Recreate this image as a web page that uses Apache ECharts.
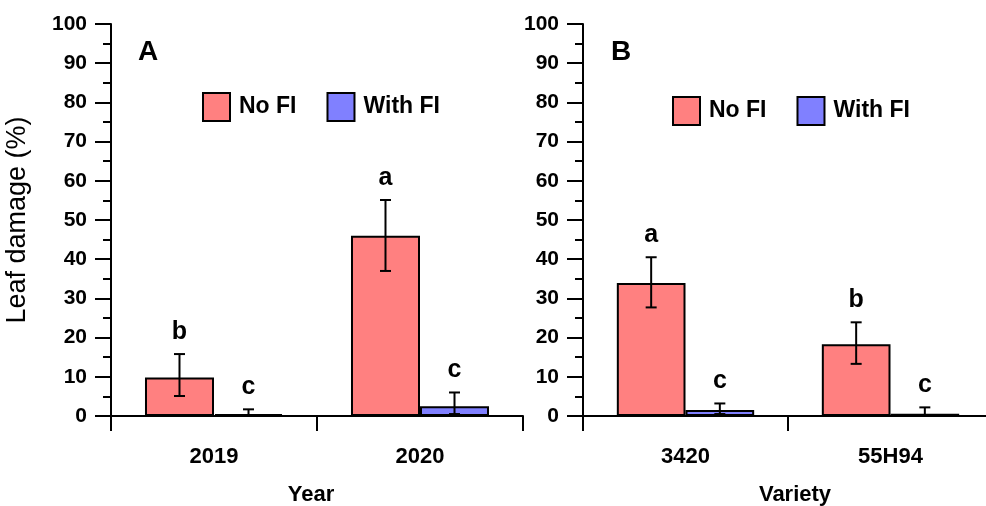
<!DOCTYPE html>
<html>
<head>
<meta charset="utf-8">
<script src="https://cdn.jsdelivr.net/npm/echarts@6/dist/echarts.min.js"></script>
<style>
html,body{margin:0;padding:0;background:#fff;}
#chart{width:986px;height:506px;}
</style>
</head>
<body>
<div id="chart"></div>
<script>
// ---------- data ----------
const seriesNames = ['No FI', 'With FI'];
const yTicks = [0, 10, 20, 30, 40, 50, 60, 70, 80, 90, 100];

// Panel A (Year)
const catsA = ['2019', '2020'];
const noFiA = [9.8, 46.0];
const noFiA_lo = [5.1, 37.0];
const noFiA_hi = [15.8, 55.1];
const withFiA = [0.5, 2.5];
const withFiA_lo = [0.0, 0.5];
const withFiA_hi = [1.7, 6.0];
const lettersNoFiA = ['b', 'a'];
const lettersWithFiA = ['c', 'c'];

// Panel B (Variety)
const catsB = ['3420', '55H94'];
const noFiB = [33.9, 18.3];
const noFiB_lo = [27.7, 13.3];
const noFiB_hi = [40.5, 23.9];
const withFiB = [1.5, 0.6];
const withFiB_lo = [0.5, 0.0];
const withFiB_hi = [3.2, 2.2];
const lettersNoFiB = ['a', 'b'];
const lettersWithFiB = ['c', 'c'];

// ---------- styling ----------
const PINK = '#FF8080';
const BLUE = '#8080FF';
const SANS = "'Liberation Sans', Arial, sans-serif";
const CAT_GAP = 0.33;

function errSeries(name, xi, sign, lo, hi, letters) {
  return {
    name: name,
    type: 'custom',
    xAxisIndex: xi, yAxisIndex: xi,
    z: 5,
    silent: true,
    data: lo.map((v, i) => [i, v, hi[i]]),
    encode: {x: 0, y: [1, 2]},
    renderItem: function (params, api) {
      const ci = api.value(0);
      const l = api.value(1), h = api.value(2);
      const band = api.size([1, 0])[0];
      const bw = band * (1 - CAT_GAP) / 2;
      const x = api.coord([ci, 0])[0] + sign * bw / 2;
      const yh = api.coord([ci, h])[1];
      const yl = api.coord([ci, l])[1];
      const cap = 5.5;
      const ls = {stroke: '#000', lineWidth: 2};
      return {
        type: 'group',
        children: [
          {type: 'line', shape: {x1: x, y1: yh, x2: x, y2: yl}, style: ls},
          {type: 'line', shape: {x1: x - cap, y1: yh, x2: x + cap, y2: yh}, style: ls},
          {type: 'line', shape: {x1: x - cap, y1: yl, x2: x + cap, y2: yl}, style: ls},
          {type: 'text', x: x, y: yh - 22,
            style: {text: letters[params.dataIndex], fill: '#000',
              font: 'bold 25px ' + SANS, align: 'center', verticalAlign: 'middle'}}
        ]
      };
    }
  };
}

function barSeries(name, xi, data, color) {
  return {
    name: name, type: 'bar', xAxisIndex: xi, yAxisIndex: xi,
    data: data, barGap: '0%', barCategoryGap: (CAT_GAP * 100) + '%',
    itemStyle: {color: color, borderColor: '#000', borderWidth: 2},
    z: 2
  };
}

function yAxisCfg(withName, gi) {
  const c = {
    type: 'value', min: yTicks[0], max: yTicks[yTicks.length - 1], interval: 10,
    gridIndex: gi,
    axisLine: {show: true, lineStyle: {color: '#000', width: 2}},
    axisTick: {show: true, length: 16, lineStyle: {color: '#000', width: 2}},
    minorTick: {show: true, splitNumber: 2, length: 8, lineStyle: {color: '#000', width: 2}},
    splitLine: {show: false},
    axisLabel: {fontSize: 21, fontWeight: 'bold', color: '#000', fontFamily: SANS, margin: 24}
  };
  if (withName) {
    c.name = 'Leaf damage (%)';
    c.nameLocation = 'middle';
    c.nameRotate = 90;
    c.nameGap = 80;
    c.nameTextStyle = {fontSize: 27, color: '#000', fontFamily: SANS, fontWeight: 'normal'};
  }
  return c;
}

function xAxisCfg(cats, name, gi, namePad) {
  return {
    type: 'category', data: cats, gridIndex: gi, offset: 6,
    axisLine: {show: true, lineStyle: {color: '#000', width: 2}},
    axisTick: {show: true, length: 15, alignWithLabel: false, lineStyle: {color: '#000', width: 2}},
    axisLabel: {fontSize: 22, fontWeight: 'bold', color: '#000', fontFamily: SANS, margin: 24},
    name: name, nameLocation: 'middle', nameGap: 62,
    nameTextStyle: {fontSize: 22, fontWeight: 900, color: '#000', fontFamily: SANS, padding: namePad}
  };
}

const chart = echarts.init(document.getElementById('chart'));

chart.setOption({
  animation: false,
  backgroundColor: '#fff',
  title: [
    {text: 'A', left: 133, top: 33, textStyle: {fontSize: 28, fontWeight: 'bold', color: '#000', fontFamily: SANS}},
    {text: 'B', left: 606, top: 33, textStyle: {fontSize: 28, fontWeight: 'bold', color: '#000', fontFamily: SANS}}
  ],
  legend: [
    {data: seriesNames, left: 197, top: 87, itemWidth: 27, itemHeight: 28, itemGap: 30,
      icon: 'rect', selectedMode: false,
      textStyle: {fontSize: 23, fontWeight: 'bold', color: '#000', fontFamily: SANS, padding: [0, 0, 0, 4]}},
    {data: seriesNames, left: 667, top: 91, itemWidth: 27, itemHeight: 28, itemGap: 30,
      icon: 'rect', selectedMode: false,
      textStyle: {fontSize: 23, fontWeight: 'bold', color: '#000', fontFamily: SANS, padding: [0, 0, 0, 4]}}
  ],
  grid: [
    {left: 111, top: 24, width: 412, height: 392, containLabel: false, outerBoundsMode: 'none'},
    {left: 583, top: 24, width: 410, height: 392, containLabel: false, outerBoundsMode: 'none'}
  ],
  xAxis: [xAxisCfg(catsA, 'Year', 0, [0, 12, 0, 0]), xAxisCfg(catsB, 'Variety', 1, [0, 0, 0, 14])],
  yAxis: [yAxisCfg(true, 0), yAxisCfg(false, 1)],
  series: [
    barSeries('No FI', 0, noFiA, PINK),
    barSeries('With FI', 0, withFiA, BLUE),
    barSeries('No FI', 1, noFiB, PINK),
    barSeries('With FI', 1, withFiB, BLUE),
    errSeries('errA1', 0, -1, noFiA_lo, noFiA_hi, lettersNoFiA),
    errSeries('errA2', 0, 1, withFiA_lo, withFiA_hi, lettersWithFiA),
    errSeries('errB1', 1, -1, noFiB_lo, noFiB_hi, lettersNoFiB),
    errSeries('errB2', 1, 1, withFiB_lo, withFiB_hi, lettersWithFiB)
  ]
});
</script>
</body>
</html>
